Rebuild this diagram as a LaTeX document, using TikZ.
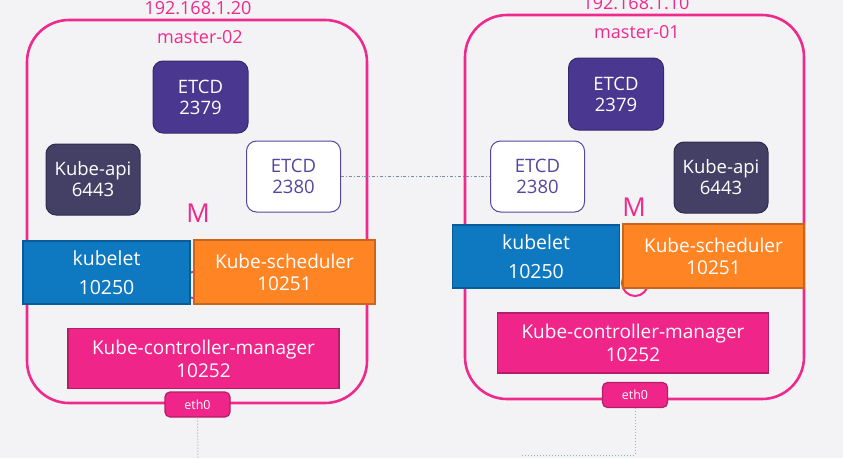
\documentclass[tikz,border=0pt]{standalone}
\usepackage{fontspec}
\setmainfont{Open Sans}
\definecolor{bg}{HTML}{F3F3F5}
\definecolor{pinkc}{HTML}{EE2A8C}
\definecolor{etcdf}{HTML}{4A3790}
\definecolor{etcdd}{HTML}{37296E}
\definecolor{apif}{HTML}{433F65}
\definecolor{apid}{HTML}{302D4C}
\definecolor{peerc}{HTML}{56479E}
\definecolor{kubef}{HTML}{0E78C0}
\definecolor{kubed}{HTML}{0A5C98}
\definecolor{schedf}{HTML}{FF8424}
\definecolor{schedd}{HTML}{C8661E}
\definecolor{ctrlf}{HTML}{F0258A}
\definecolor{ctrld}{HTML}{B41E68}
\definecolor{dotc}{HTML}{8DB3D2}
\definecolor{linkc}{HTML}{7C8AA8}
\begin{document}
\begin{tikzpicture}[x=1pt,y=-1pt,
  masterbox/.style={draw=pinkc,line width=2.6pt,rounded corners=42pt,inner sep=0pt},
  svc/.style={inner sep=0pt,align=center,text=white},
  etcdbox/.style={svc,fill=etcdf,draw=etcdd,line width=1pt,rounded corners=10pt,minimum width=95pt,minimum height=72pt,font=\fontsize{18.5}{21}\selectfont},
  apibox/.style={svc,fill=apif,draw=apid,line width=1pt,rounded corners=10pt,minimum width=94pt,minimum height=71pt,font=\fontsize{18.5}{21}\selectfont},
  peerbox/.style={inner sep=0pt,align=center,text=peerc,fill=white,draw=peerc,line width=1pt,rounded corners=10pt,minimum width=94pt,minimum height=71pt,font=\fontsize{18.5}{21}\selectfont},
  kubebox/.style={svc,fill=kubef,draw=kubed,line width=1.2pt,minimum width=167pt,minimum height=63pt,font=\fontsize{19.5}{29}\selectfont},
  schedbox/.style={svc,fill=schedf,draw=schedd,line width=1.2pt,minimum width=181pt,minimum height=64pt,font=\fontsize{19}{22}\selectfont},
  ctrlbox/.style={svc,fill=ctrlf,draw=ctrld,line width=1.2pt,minimum width=271pt,minimum height=60pt,font=\fontsize{19}{23}\selectfont},
  ethbox/.style={svc,fill=ctrlf,draw=ctrld,line width=1.2pt,rounded corners=5pt,minimum width=65pt,minimum height=25pt,font=\fontsize{12.5}{14}\selectfont},
  title/.style={text=pinkc,font=\fontsize{18}{20}\selectfont,anchor=base,inner sep=0pt},
  mlabel/.style={text=pinkc,font=\fontsize{26}{28}\selectfont,anchor=base,inner sep=0pt},
  ringc/.style={draw=pinkc,line width=2pt,circle,minimum size=26pt,inner sep=0pt},
  dotline/.style={draw=dotc,line width=1pt,dotted},
  linkline/.style={draw=linkc,line width=0.8pt,dash dot}
]
\useasboundingbox (0,0) rectangle (843,458);
\fill[bg] (0,0) rectangle (843,458);

% master-02 (left)
\node[masterbox,minimum width=340pt,minimum height=383pt] (m2) at (197,211.5) {};
\node[title] (ip2) at (198,14) {192.168.1.20};
\node[title] (n2) at (200,43) {master-02};
\node[etcdbox] (etcdA2) at (200.5,97) {ETCD\\2379};
\node[apibox] (api2) at (93,179.5) {Kube-api\\6443};
\node[peerbox] (peer2) at (293.5,176.5) {ETCD\\2380};
\node[mlabel] (mm2) at (198,222) {M};
\node[ringc] (ring2) at (193,285) {};
\node[kubebox] (kl2) at (106.5,272.5) {kubelet\\10250};
\node[schedbox] (sc2) at (284.5,272) {Kube-scheduler\\10251};
\node[ctrlbox] (cm2) at (203.5,358.5) {Kube-controller-manager\\10252};
\node[ethbox] (eth2) at (197.5,404.5) {eth0};
\coordinate (d2) at (198,458);
\draw[dotline] (eth2.south) -- (d2);

% master-01 (right)
\node[masterbox,minimum width=339pt,minimum height=384pt] (m1) at (634.5,207) {};
\node[title] (ip1) at (636,9) {192.168.1.10};
\node[title] (n1) at (637,38) {master-01};
\node[etcdbox] (etcdA1) at (616,94) {ETCD\\2379};
\node[peerbox] (peer1) at (537.5,176.5) {ETCD\\2380};
\node[apibox] (api1) at (721,177.5) {Kube-api\\6443};
\node[mlabel] (mm1) at (634,216) {M};
\node[ringc] (ring1) at (635,283) {};
\node[kubebox] (kl1) at (536,256.5) {kubelet\\10250};
\node[schedbox] (sc1) at (713.5,256) {Kube-scheduler\\10251};
\node[ctrlbox] (cm1) at (633,343) {Kube-controller-manager\\10252};
\node[ethbox] (eth1) at (635,395) {eth0};
\coordinate (c1) at (635,455);
\coordinate (d1) at (522,455);
\draw[dotline] (eth1.south) -- (c1) -- (d1);

% peer link
\draw[linkline] (peer2.east) -- (peer1.west);
\end{tikzpicture}
\end{document}
